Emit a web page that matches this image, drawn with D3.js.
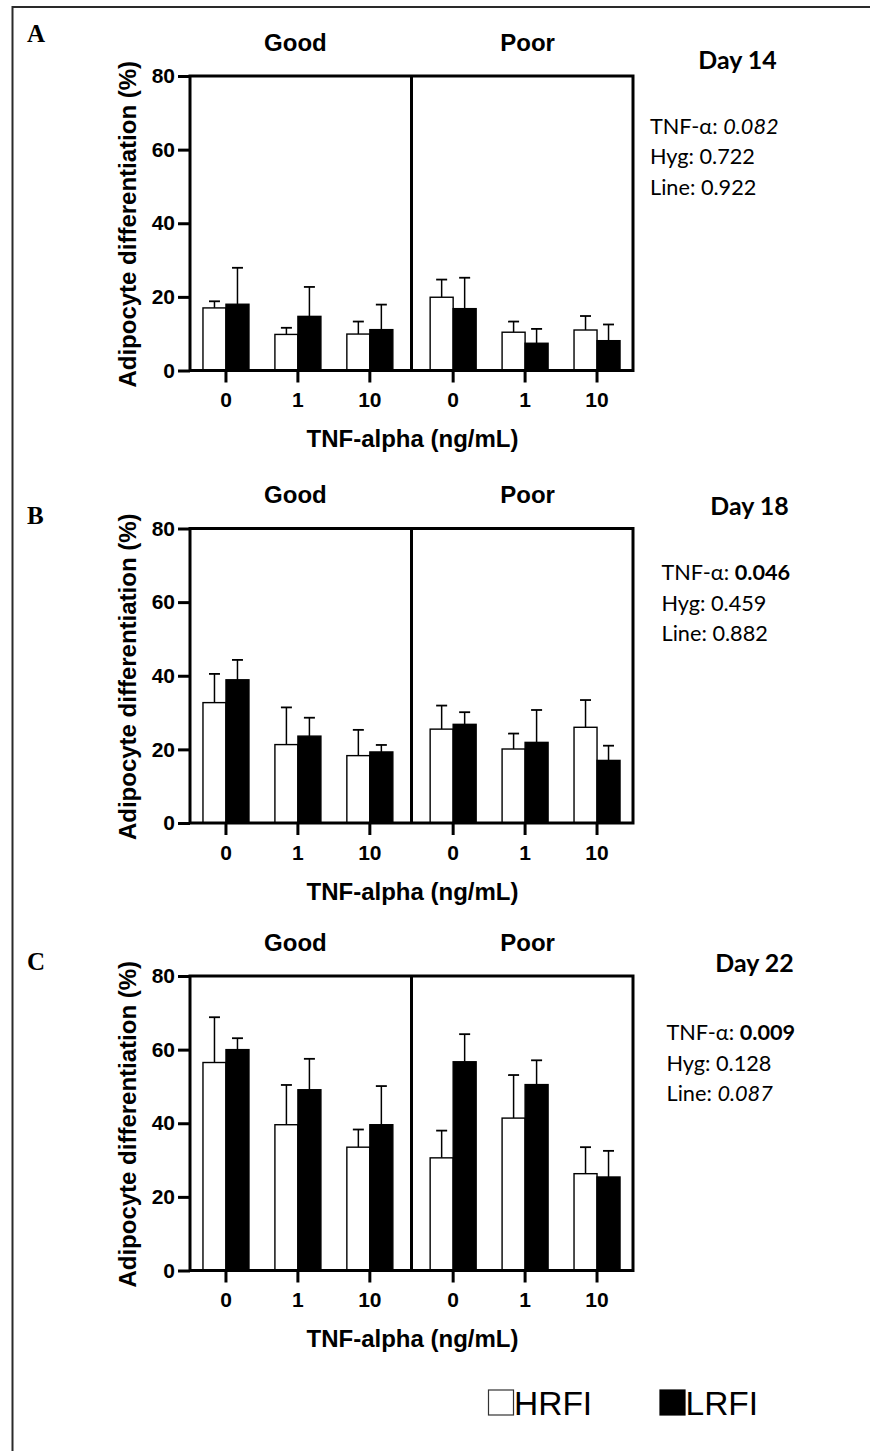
<!DOCTYPE html>
<html>
<head>
<meta charset="utf-8">
<script src="https://cdn.jsdelivr.net/npm/d3@7"></script>
<style>
  html, body { margin: 0; padding: 0; background: #fff; }
  svg { display: block; }
</style>
</head>
<body>
<svg id="chart" width="870" height="1451"></svg>
<script>
// ---------------- DATA ----------------
const panelLetters = ["A", "B", "C"];
const dayLabels = ["Day 14", "Day 18", "Day 22"];
const groups = ["Good", "Poor"];
const doses = ["0", "1", "10"];
const seriesNames = ["HRFI", "LRFI"];
const yTicks = [0, 20, 40, 60, 80];
const xTitle = "TNF-alpha (ng/mL)";
const yTitle = "Adipocyte differentiation (%)";

// values ordered: Good 0, Good 1, Good 10, Poor 0, Poor 1, Poor 10
const hrfiDay14 = [17.0, 9.8, 9.9, 19.9, 10.4, 11.0];
const hrfiSdDay14 = [1.8, 1.8, 3.4, 4.8, 2.9, 3.8];
const lrfiDay14 = [18.0, 14.7, 11.1, 16.8, 7.4, 8.1];
const lrfiSdDay14 = [9.9, 8.0, 6.8, 8.4, 3.9, 4.4];

const hrfiDay18 = [32.7, 21.3, 18.3, 25.5, 20.1, 26.0];
const hrfiSdDay18 = [7.8, 10.1, 7.0, 6.4, 4.2, 7.4];
const lrfiDay18 = [38.9, 23.6, 19.3, 26.8, 21.9, 17.0];
const lrfiSdDay18 = [5.4, 5.0, 1.9, 3.3, 8.8, 4.0];

const hrfiDay22 = [56.5, 39.6, 33.5, 30.6, 41.4, 26.3];
const hrfiSdDay22 = [12.3, 10.8, 4.8, 7.4, 11.7, 7.2];
const lrfiDay22 = [60.0, 49.1, 39.6, 56.7, 50.5, 25.4];
const lrfiSdDay22 = [3.1, 8.4, 10.5, 7.5, 6.6, 7.1];

const pTnf = ["0.082", "0.046", "0.009"];
const pHyg = ["0.722", "0.459", "0.128"];
const pLine = ["0.922", "0.882", "0.087"];

const hrfiAll = [hrfiDay14, hrfiDay18, hrfiDay22];
const hrfiSdAll = [hrfiSdDay14, hrfiSdDay18, hrfiSdDay22];
const lrfiAll = [lrfiDay14, lrfiDay18, lrfiDay22];
const lrfiSdAll = [lrfiSdDay14, lrfiSdDay18, lrfiSdDay22];

// ---------------- LAYOUT ----------------
const plotLeft = 190, plotRight = 633, plotH = 294.5;
const plotTops = [76, 528.5, 976];
const letterY = [42, 523.5, 969.5];
const dayY = [68.5, 515, 971.5];
const dayX = [737.5, 749.5, 754.5];
const statX = [650, 661.5, 666.5];
const statY = [133.5, 580, 1040];
const statGap = 30.5;

const sans = "'Liberation Sans', Arial, Helvetica, sans-serif";
const serif = "'Liberation Serif', 'Times New Roman', serif";
const calib = "Lato, 'Open Sans', sans-serif";

const svg = d3.select("#chart");

// outer border (left & top only visible)
svg.append("path")
  .attr("d", "M12.5,1460 L12.5,7 L880,7")
  .attr("fill", "none").attr("stroke", "#2a2a2a").attr("stroke-width", 2);

// font fitting probes for the Calibri-like text
function measure(txt, family, weight, size) {
  const t = svg.append("text").attr("font-family", family).attr("font-weight", weight)
    .attr("font-size", size).text(txt);
  const w = t.node().getComputedTextLength();
  t.remove();
  return w;
}
const statSize = 100 * 105 / measure("Hyg: 0.722", calib, "normal", 100);
const daySize = 100 * 78.5 / measure("Day 14", calib, "bold", 100);

const outerX = d3.scaleBand().domain(groups).range([plotLeft, plotRight]).paddingInner(0.05).paddingOuter(0);
const innerX = d3.scaleBand().domain(doses).range([0, outerX.bandwidth()]).padding(0);
const subX = d3.scaleBand().domain(seriesNames).range([-23, 23]).padding(0);

panelLetters.forEach((letter, pi) => {
  const top = plotTops[pi], bottom = top + plotH;
  const y = d3.scaleLinear().domain([0, 80]).range([bottom, top]);
  const g = svg.append("g");

  // build records
  const recs = [];
  groups.forEach((grp, gi) => {
    doses.forEach((d, di) => {
      const idx = gi * doses.length + di;
      const cx = outerX(grp) + innerX(d) + innerX.bandwidth() / 2;
      recs.push({ grp, d, s: "HRFI", cx, v: hrfiAll[pi][idx], sd: hrfiSdAll[pi][idx] });
      recs.push({ grp, d, s: "LRFI", cx, v: lrfiAll[pi][idx], sd: lrfiSdAll[pi][idx] });
    });
  });

  // error bars (behind bars)
  const eb = g.append("g");
  recs.forEach(r => {
    const bx = r.cx + subX(r.s) + subX.bandwidth() / 2;
    eb.append("line").attr("x1", bx).attr("x2", bx)
      .attr("y1", y(r.v)).attr("y2", y(r.v + r.sd))
      .attr("stroke", "#000").attr("stroke-width", 1.5);
    eb.append("line").attr("x1", bx - 5.5).attr("x2", bx + 5.5)
      .attr("y1", y(r.v + r.sd)).attr("y2", y(r.v + r.sd))
      .attr("stroke", "#000").attr("stroke-width", 1.8);
  });

  // bars
  g.append("g").selectAll("rect").data(recs).join("rect")
    .attr("x", r => r.cx + subX(r.s))
    .attr("y", r => y(r.v))
    .attr("width", subX.bandwidth())
    .attr("height", r => bottom - y(r.v))
    .attr("fill", r => r.s === "HRFI" ? "#fff" : "#000")
    .attr("stroke", "#000").attr("stroke-width", 1.4);

  // frame
  g.append("rect").attr("x", plotLeft).attr("y", top)
    .attr("width", plotRight - plotLeft).attr("height", plotH)
    .attr("fill", "none").attr("stroke", "#000").attr("stroke-width", 3);
  const divX = (outerX("Good") + outerX.bandwidth() + outerX("Poor")) / 2;
  g.append("line").attr("x1", divX).attr("x2", divX).attr("y1", top).attr("y2", bottom)
    .attr("stroke", "#000").attr("stroke-width", 3);

  // y axis
  const yAxis = d3.axisLeft(y).tickValues(yTicks).tickSize(12).tickPadding(3);
  const ya = g.append("g").attr("transform", `translate(${plotLeft},0)`).call(yAxis);
  ya.select(".domain").remove();
  ya.selectAll(".tick line").attr("stroke", "#000").attr("stroke-width", 3);
  ya.selectAll(".tick text").attr("font-family", sans).attr("font-weight", "bold")
    .attr("font-size", 21).attr("fill", "#000");

  // x axes (one per group)
  groups.forEach(grp => {
    const xs = d3.scaleBand().domain(doses)
      .range([outerX(grp), outerX(grp) + outerX.bandwidth()]).padding(0);
    const xa = g.append("g").attr("transform", `translate(0,${bottom})`)
      .call(d3.axisBottom(xs).tickSize(12).tickPadding(10));
    xa.select(".domain").remove();
    xa.selectAll(".tick line").attr("stroke", "#000").attr("stroke-width", 3);
    xa.selectAll(".tick text").attr("font-family", sans).attr("font-weight", "bold")
      .attr("font-size", 21).attr("fill", "#000");
    // group title
    g.append("text").attr("x", outerX(grp) + outerX.bandwidth() / 2 + (grp === "Good" ? -2.5 : 2.5))
      .attr("y", top - 25.3).attr("text-anchor", "middle")
      .attr("font-family", sans).attr("font-weight", "bold").attr("font-size", 24)
      .text(grp);
  });

  // axis titles
  g.append("text").attr("transform", `translate(136,${(top + bottom) / 2 + 1}) rotate(-90)`)
    .attr("text-anchor", "middle").attr("font-family", sans).attr("font-weight", "bold")
    .attr("font-size", 24).text(yTitle);
  g.append("text").attr("x", 412.5).attr("y", bottom + 76.5).attr("text-anchor", "middle")
    .attr("font-family", sans).attr("font-weight", "bold").attr("font-size", 24).text(xTitle);

  // panel letter
  g.append("text").attr("x", 27).attr("y", letterY[pi])
    .attr("font-family", serif).attr("font-weight", "bold").attr("font-size", 25).text(letter);

  // day label
  g.append("text").attr("x", dayX[pi]).attr("y", dayY[pi]).attr("text-anchor", "middle")
    .attr("font-family", calib).attr("font-weight", "bold").attr("font-size", daySize)
    .text(dayLabels[pi]);

  // stats
  const stats = [["TNF-\u03B1: ", pTnf[pi]], ["Hyg: ", pHyg[pi]], ["Line: ", pLine[pi]]];
  stats.forEach((st, si) => {
    const t = g.append("text").attr("x", statX[pi]).attr("y", statY[pi] + si * statGap)
      .attr("font-family", calib).attr("font-size", statSize).attr("fill", "#000");
    t.append("tspan").text(st[0]);
    const p = +st[1];
    t.append("tspan").text(st[1])
      .attr("font-weight", p < 0.05 ? "bold" : "normal")
      .attr("font-style", p >= 0.05 && p < 0.1 ? "italic" : "normal");
  });
});

// legend
const legendX = [488.5, 660];
const legendY = 1390;
seriesNames.forEach((s, i) => {
  svg.append("rect").attr("x", legendX[i]).attr("y", legendY).attr("width", 25).attr("height", 25)
    .attr("fill", i === 0 ? "#fff" : "#000").attr("stroke", i === 0 ? "#333" : "#000").attr("stroke-width", 1.2);
  svg.append("text").attr("x", legendX[i] + 25.5).attr("y", legendY + 25)
    .attr("font-family", sans).attr("font-size", 33.5).attr("fill", "#000").text(s);
});
</script>
</body>
</html>
